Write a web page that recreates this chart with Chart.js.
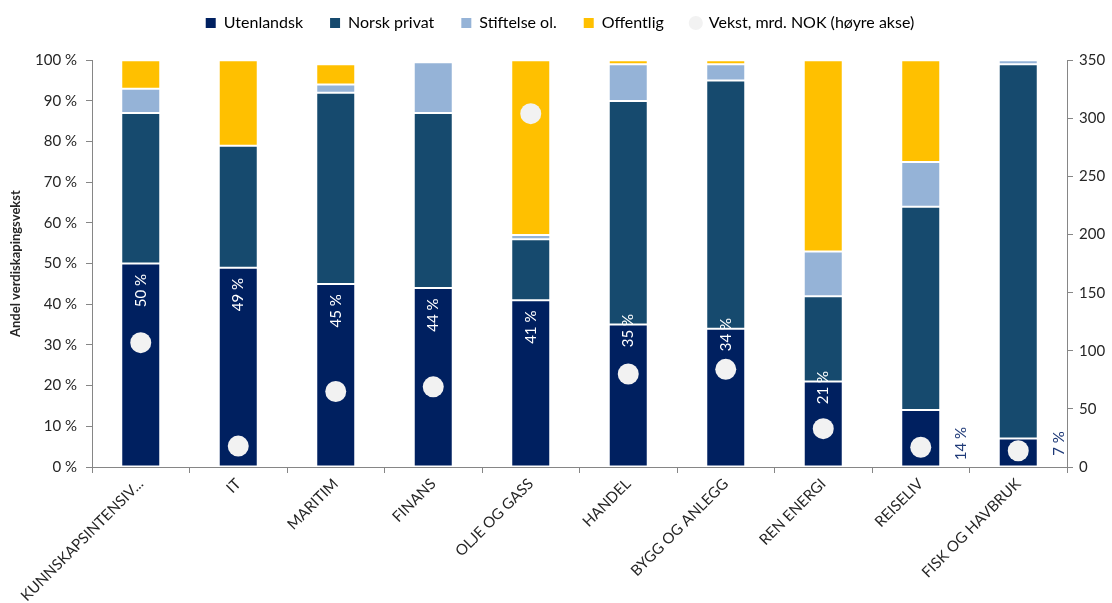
<!DOCTYPE html>
<html>
<head>
<meta charset="utf-8">
<script src="https://cdn.jsdelivr.net/npm/chart.js@4/dist/chart.umd.min.js"></script>
<style>
  html, body { margin: 0; padding: 0; background: #ffffff; }
  #wrap { width: 1112px; height: 603px; position: relative; }
</style>
</head>
<body>
<div id="wrap"><canvas id="c" width="1112" height="603"></canvas></div>
<script>
// Næringer (kategorier)
const categories = ['KUNNSKAPSINTENSIV...', 'IT', 'MARITIM', 'FINANS', 'OLJE OG GASS',
  'HANDEL', 'BYGG OG ANLEGG', 'REN ENERGI', 'REISELIV', 'FISK OG HAVBRUK'];

// Andel av verdiskapingsveksten etter eierskap (prosent)
const utenlandsk  = [50, 49, 45, 44, 41, 35, 34, 21, 14, 7];
const norskPrivat = [37, 30, 47, 43, 15, 55, 61, 21, 50, 92];
const stiftelse   = [6, 0, 2, 12.5, 1, 9, 4, 11, 11, 1];
const offentlig   = [7, 21, 5, 0.5, 43, 1, 1, 47, 25, 0];

// Vekst i milliarder kroner (høyre akse)
const vekst = [107, 18, 65, 69, 304, 80, 84, 33, 17, 14];

// Akseinndeling
const leftTicks = [0, 10, 20, 30, 40, 50, 60, 70, 80, 90, 100];
const rightTicks = [0, 50, 100, 150, 200, 250, 300, 350];

const FONT = 'Lato, "Liberation Sans", sans-serif';
const AXIS_GREY = '#868686';
const TEXT = '#262626';

// Prosentetiketter for utenlandsk eierskap
const shareLabels = {
  id: 'shareLabels',
  afterDatasetsDraw(chart) {
    const meta = chart.getDatasetMeta(0);
    const ctx = chart.ctx;
    ctx.save();
    ctx.font = '15px ' + FONT;
    ctx.textAlign = 'center';
    ctx.textBaseline = 'middle';
    meta.data.forEach((bar, i) => {
      const v = utenlandsk[i];
      const txt = v + ' %';
      let cx, cy;
      const half = bar.width / 2;
      if (v >= 40) {
        cx = bar.x; cy = bar.y + 27; ctx.fillStyle = '#ffffff';
      } else if (v >= 20) {
        cx = bar.x; cy = bar.y + 6; ctx.fillStyle = '#ffffff';
      } else {
        cx = bar.x + half + 21; cy = bar.base - 23; ctx.fillStyle = '#1F3A78';
      }
      ctx.save();
      ctx.translate(cx, cy);
      ctx.rotate(-Math.PI / 2);
      ctx.fillText(txt, 0, 0);
      ctx.restore();
    });
    ctx.restore();
  }
};

const barCommon = {
  type: 'bar',
  stack: 's',
  yAxisID: 'y',
  order: 1,
  borderWidth: 1,
  borderColor: 'rgba(255,255,255,0.22)',
  borderSkipped: false,
  barPercentage: 0.4,
  categoryPercentage: 1.0
};

new Chart(document.getElementById('c'), {
  data: {
    labels: categories,
    datasets: [
      Object.assign({}, barCommon, { label: 'Utenlandsk', data: utenlandsk, backgroundColor: '#002060' }),
      Object.assign({}, barCommon, { label: 'Norsk privat', data: norskPrivat, backgroundColor: '#164A6E' }),
      Object.assign({}, barCommon, { label: 'Stiftelse ol.', data: stiftelse, backgroundColor: '#95B3D7' }),
      Object.assign({}, barCommon, { label: 'Offentlig', data: offentlig, backgroundColor: '#FFC000' }),
      {
        type: 'line',
        label: 'Vekst, mrd. NOK (høyre akse)',
        data: vekst,
        yAxisID: 'y1',
        order: 0,
        showLine: false,
        pointRadius: 10.5,
        pointHoverRadius: 10.5,
        pointBackgroundColor: '#F2F2F2',
        pointBorderColor: '#F2F2F2',
        pointBorderWidth: 0,
        backgroundColor: '#F2F2F2',
        borderColor: '#F2F2F2',
        pointStyle: 'circle'
      }
    ]
  },
  options: {
    responsive: false,
    animation: false,
    devicePixelRatio: 1,
    layout: { padding: { top: -12, right: 0, left: 8, bottom: 0 } },
    plugins: {
      tooltip: { enabled: false },
      // tom linje som luft mellom tegnforklaring og plottområdet
      title: {
        display: true,
        text: ' ',
        font: { family: FONT, size: 11 },
        padding: { top: 3, bottom: 3 }
      },
      legend: {
        position: 'top',
        weight: 3000,
        labels: {
          usePointStyle: true,
          boxWidth: 10,
          boxHeight: 10,
          padding: 27,
          color: TEXT,
          font: { family: FONT, size: 16 },
          generateLabels(chart) {
            return chart.data.datasets.map((ds, i) => ({
              text: ds.label,
              fillStyle: ds.type === 'line' ? '#F2F2F2' : ds.backgroundColor,
              strokeStyle: ds.type === 'line' ? '#F2F2F2' : ds.backgroundColor,
              lineWidth: 0,
              pointStyle: ds.type === 'line' ? 'circle' : 'rect',
              hidden: false,
              datasetIndex: i
            }));
          }
        }
      }
    },
    scales: {
      x: {
        stacked: true,
        offset: true,
        border: { display: true, color: AXIS_GREY, width: 1 },
        grid: { display: true, offset: true, drawOnChartArea: false, drawTicks: true, tickLength: 6, color: AXIS_GREY },
        ticks: {
          color: TEXT,
          font: { family: FONT, size: 15 },
          maxRotation: 45,
          minRotation: 45,
          autoSkip: false,
          padding: 2
        },
        afterFit(scale) { scale.height = 136; }
      },
      y: {
        stacked: true,
        position: 'left',
        min: 0,
        max: 100,
        border: { display: true, color: AXIS_GREY, width: 1 },
        grid: { display: true, drawOnChartArea: false, drawTicks: true, tickLength: 6, color: AXIS_GREY },
        afterBuildTicks(scale) { scale.ticks = leftTicks.map(v => ({ value: v })); },
        ticks: {
          color: TEXT,
          font: { family: FONT, size: 15 },
          padding: 9,
          callback: v => v + ' %'
        },
        title: {
          display: true,
          text: 'Andel verdiskapingsvekst',
          color: TEXT,
          font: { family: FONT, size: 13, weight: 'bold' },
          padding: { top: 0, bottom: 4 }
        },
        afterFit(scale) { scale.width = 84; }
      },
      y1: {
        stacked: false,
        position: 'right',
        min: 0,
        max: 350,
        border: { display: true, color: AXIS_GREY, width: 1 },
        grid: { display: true, drawOnChartArea: false, drawTicks: true, tickLength: 6, color: AXIS_GREY },
        afterBuildTicks(scale) { scale.ticks = rightTicks.map(v => ({ value: v })); },
        ticks: {
          color: TEXT,
          font: { family: FONT, size: 15 },
          padding: 6
        },
        afterFit(scale) { scale.width = 45; }
      }
    }
  },
  plugins: [shareLabels]
});
</script>
</body>
</html>
